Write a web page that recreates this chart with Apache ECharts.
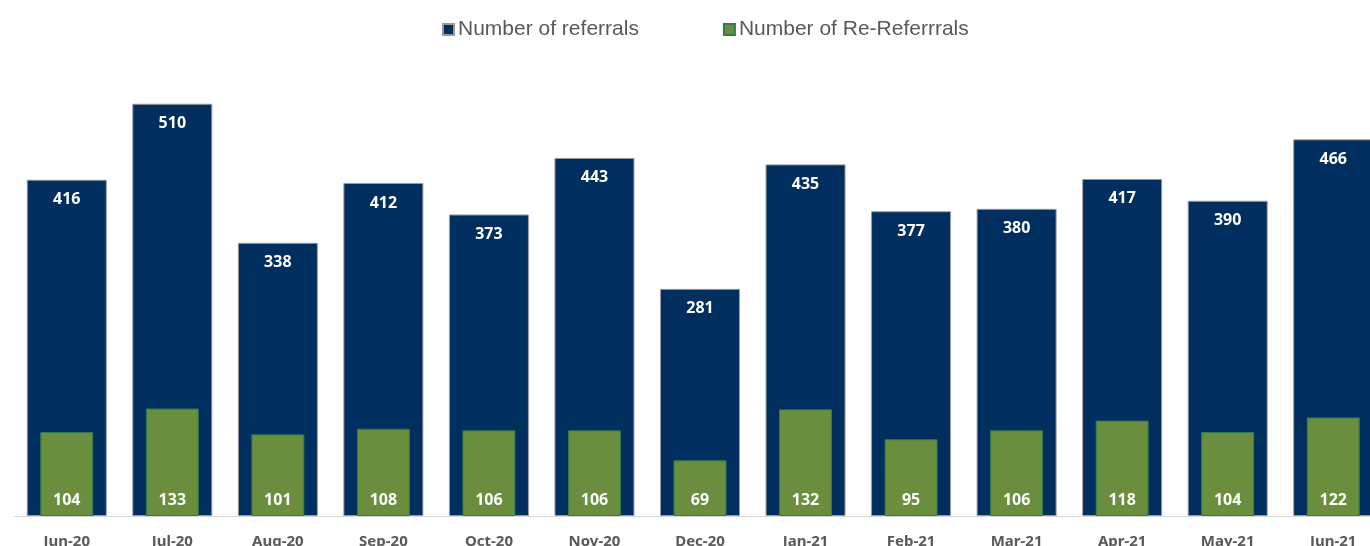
<!DOCTYPE html>
<html>
<head>
<meta charset="utf-8">
<script src="https://cdn.jsdelivr.net/npm/echarts@6/dist/echarts.min.js"></script>
<style>
  html, body { margin: 0; padding: 0; background: #ffffff; overflow: hidden; }
  #chart { width: 1370px; height: 546px; }
</style>
</head>
<body>
<div id="chart"></div>
<script>
// Monthly referral counts, June 2020 to June 2021
const months = ['Jun-20', 'Jul-20', 'Aug-20', 'Sep-20', 'Oct-20', 'Nov-20', 'Dec-20',
                'Jan-21', 'Feb-21', 'Mar-21', 'Apr-21', 'May-21', 'Jun-21'];
const referrals = [416, 510, 338, 412, 373, 443, 281, 435, 377, 380, 417, 390, 466];
const reReferrals = [104, 133, 101, 108, 106, 106, 69, 132, 95, 106, 118, 104, 122];

const BLUE = '#002E5E';
const GREEN = '#6A8E3D';
const labelFont = '"Noto Sans", sans-serif';

const chart = echarts.init(document.getElementById('chart'), null, { renderer: 'canvas' });

chart.setOption({
  animation: false,
  legend: {
    top: 14,
    left: 437,
    itemWidth: 11,
    itemHeight: 11,
    itemGap: 84,
    icon: 'rect',
    textStyle: { fontFamily: '"Liberation Sans", Arial, sans-serif', fontSize: 21, color: '#595959', padding: [0, 0, 0, -1] },
    data: ['Number of referrals', 'Number of Re-Referrrals']
  },
  // the plot runs slightly past the right and bottom edges, so the last bar and the month labels are clipped
  grid: { left: 14, width: 1372, top: 31, bottom: 30, outerBoundsMode: 'none', containLabel: false },
  xAxis: [
    {
      type: 'category',
      data: months,
      axisTick: { show: false },
      axisLine: { lineStyle: { color: '#D9D9D9', width: 1 } },
      axisLabel: { margin: 18, fontFamily: labelFont, fontWeight: 'bold', fontSize: 15, color: '#595959' }
    },
    { type: 'category', data: months, show: false }
  ],
  yAxis: {
    type: 'value',
    min: 0,
    max: 600,
    show: false,
    splitLine: { show: false }
  },
  series: [
    {
      name: 'Number of referrals',
      type: 'bar',
      xAxisIndex: 0,
      data: referrals,
      barWidth: 80,
      itemStyle: { color: BLUE, borderColor: '#9a9a9a', borderWidth: 1 },
      label: {
        show: true,
        position: 'insideTop',
        distance: 12,
        color: '#ffffff',
        fontFamily: labelFont,
        fontWeight: 'bold',
        fontSize: 16
      }
    },
    {
      name: 'Number of Re-Referrrals',
      type: 'bar',
      xAxisIndex: 1,
      data: reReferrals,
      barWidth: 53,
      z: 3,
      itemStyle: { color: GREEN, borderColor: '#2F7A4E', borderWidth: 1 },
      label: {
        show: true,
        position: 'insideBottom',
        distance: 8,
        color: '#ffffff',
        fontFamily: labelFont,
        fontWeight: 'bold',
        fontSize: 16
      }
    }
  ]
});
</script>
</body>
</html>
